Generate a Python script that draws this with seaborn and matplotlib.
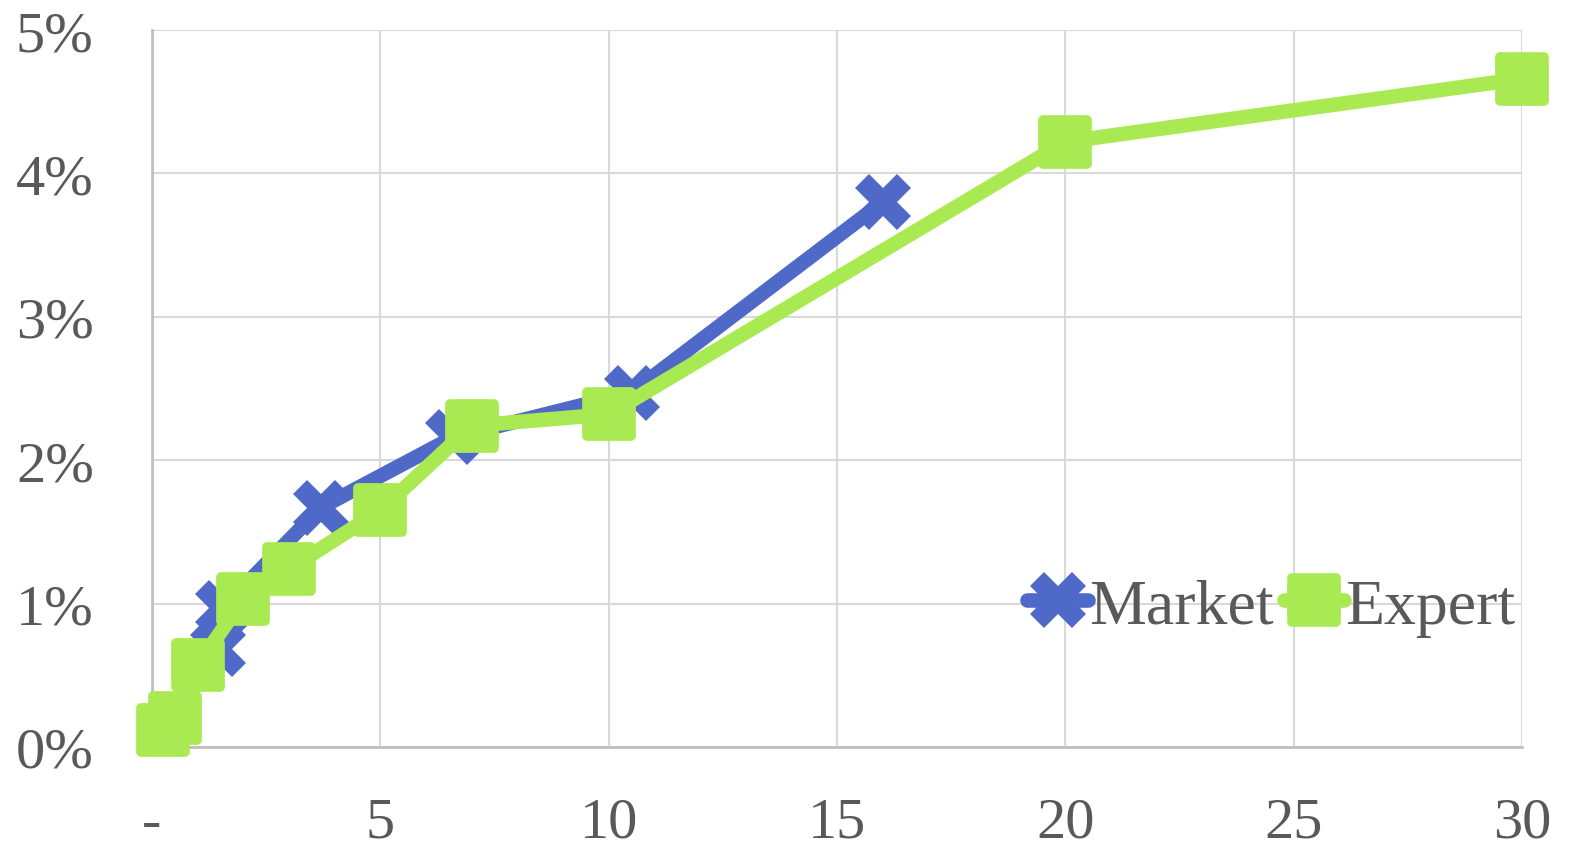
import matplotlib
matplotlib.use("Agg")
import matplotlib.pyplot as plt
from matplotlib.markers import MarkerStyle
from matplotlib.ticker import FixedLocator, FixedFormatter
import seaborn as sns

# Term structure: maturity (years) vs. yield (%)
market_maturity = [1.45, 1.55, 3.7, 6.6, 10.5, 16.0]
market_yield = [0.68, 0.97, 1.67, 2.16, 2.47, 3.80]

expert_maturity = [0.25, 0.5, 1, 2, 3, 5, 7, 10, 20, 30]
expert_yield = [0.12, 0.20, 0.57, 1.03, 1.24, 1.65, 2.24, 2.32, 4.22, 4.66]

x_ticks = [0, 5, 10, 15, 20, 25, 30]
x_tick_labels = ["-", "5", "10", "15", "20", "25", "30"]
y_ticks = [0, 1, 2, 3, 4, 5]
y_tick_labels = ["0%", "1%", "2%", "3%", "4%", "5%"]

BLUE = "#4F69C9"
GREEN = "#A9EA52"
TEXT = "#595959"

sns.set_theme(style="white")
plt.rcParams["font.family"] = ["Liberation Serif", "DejaVu Serif"]

fig = plt.figure(figsize=(15.78, 8.53), dpi=100)
ax = fig.add_axes([152 / 1578, 1 - 748 / 853, (1522 - 152) / 1578, (748 - 31) / 853])

sns.lineplot(
    x=market_maturity, y=market_yield, sort=False, ax=ax,
    color=BLUE, linewidth=10.5, label="Market",
    marker=MarkerStyle("X", joinstyle="miter"), markersize=40,
    markeredgewidth=0, solid_capstyle="round", solid_joinstyle="round",
    zorder=3, clip_on=False,
)
sns.lineplot(
    x=expert_maturity, y=expert_yield, sort=False, ax=ax,
    color=GREEN, linewidth=10.5, label="Expert",
    marker=MarkerStyle("s", joinstyle="round"), markersize=31,
    markeredgewidth=7, markeredgecolor=GREEN,
    solid_capstyle="round", solid_joinstyle="round",
    zorder=4, clip_on=False,
)

ax.set_xlim(0, 30)
ax.set_ylim(0, 5)
ax.xaxis.set_major_locator(FixedLocator(x_ticks))
ax.xaxis.set_major_formatter(FixedFormatter(x_tick_labels))
ax.yaxis.set_major_locator(FixedLocator(y_ticks))
ax.yaxis.set_major_formatter(FixedFormatter(y_tick_labels))
ax.grid(True, color="#d9d9d9", linewidth=1.5, zorder=0)
ax.set_axisbelow(True)
ax.tick_params(axis="both", length=0, labelsize=42, colors=TEXT)
ax.tick_params(axis="x", pad=36)
ax.tick_params(axis="y", pad=98)
for lbl in ax.get_yticklabels():
    lbl.set_horizontalalignment("left")

for side in ("top", "right"):
    ax.spines[side].set_visible(False)
for side in ("left", "bottom"):
    ax.spines[side].set_color("#bfbfbf")
    ax.spines[side].set_linewidth(2)

ax.set_xlabel("")
ax.set_ylabel("")

leg = ax.legend(
    loc="center right", bbox_to_anchor=(1.0, 0.195), ncol=2, frameon=False,
    fontsize=46, handlelength=0.95, handletextpad=0.02, columnspacing=0.15,
    labelcolor=TEXT, borderaxespad=0.0, borderpad=0.1,
)

fig.savefig("out.png", dpi=100)
